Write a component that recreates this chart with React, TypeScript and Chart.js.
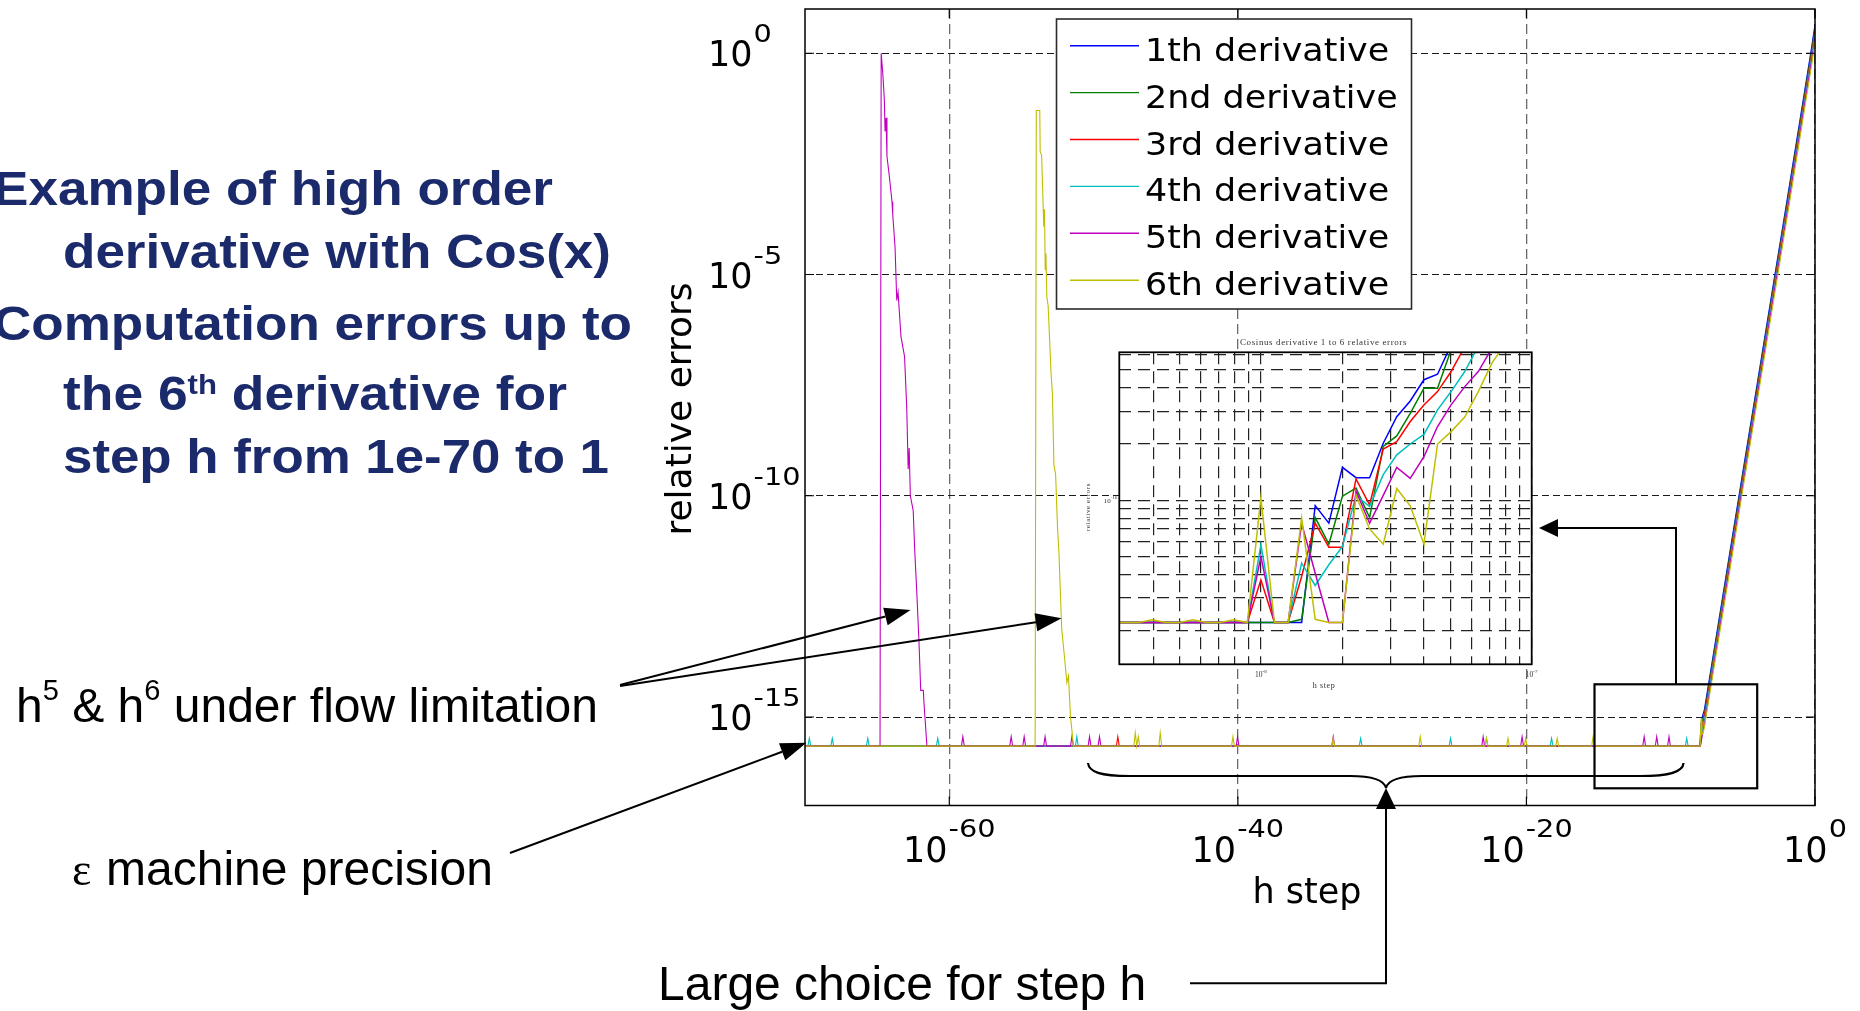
import React, { useEffect, useRef } from "react";
import { Chart, registerables } from "chart.js";

Chart.register(...registerables);

// ---------------- data ----------------
const SERIES_LABELS = ["1th derivative", "2nd derivative", "3rd derivative", "4th derivative", "5th derivative", "6th derivative"];
const SERIES_COLORS = ["#0000ff", "#008000", "#ff0000", "#00bfbf", "#bf00bf", "#bfbf00"];

// main chart points: [decade exponent of h, relative error]
const MAIN_1TH = [
  [-70, 2.2e-16], [-7.98, 2.2e-16], [-7.9, 7.0e-16], [-7.78, 1.1e-15], [-7.68, 1.4e-15], [-7, 3.2e-14], [-6, 3.4e-12],
  [-5, 3.5e-10], [-4, 3.5e-8], [-3, 3.6e-6], [-2, 3.6e-4], [-1, 3.8e-2], [-0.23, 1.4], [0, 4.5],
];
const MAIN_2ND = [
  [-70, 2.2e-16], [-7.97, 2.2e-16], [-7.88, 6.0e-16], [-7.76, 9.5e-16], [-7.67, 1.2e-15], [-7, 2.8e-14], [-6, 2.9e-12],
  [-5, 3.0e-10], [-4, 3.0e-8], [-3, 3.1e-6], [-2, 3.1e-4], [-1, 3.2e-2], [-0.23, 1.2], [0, 3.8],
];
const MAIN_3RD = [
  [-70, 2.2e-16], [-48.42, 2.2e-16], [-48.32, 3.6e-16], [-48.22, 2.2e-16], [-7.96, 2.2e-16], [-7.86, 5.0e-16],
  [-7.75, 7.9e-16], [-7.68, 1.0e-15], [-7, 2.3e-14], [-6, 2.4e-12], [-5, 2.5e-10], [-4, 2.5e-8], [-3, 2.6e-6],
  [-2, 2.6e-4], [-1, 2.7e-2], [-0.23, 1.0], [0, 3.2],
];
const MAIN_4TH = [
  [-70, 2.2e-16], [-69.8, 2.2e-16], [-69.7, 3.3e-16], [-69.6, 2.2e-16], [-68.21, 2.2e-16], [-68.11, 3.3e-16],
  [-68.01, 2.2e-16], [-65.75, 2.2e-16], [-65.65, 3.3e-16], [-65.55, 2.2e-16], [-60.9, 2.2e-16], [-60.8, 3.3e-16],
  [-60.7, 2.2e-16], [-51.26, 2.2e-16], [-51.16, 3.6e-16], [-51.06, 2.2e-16], [-31.59, 2.2e-16], [-31.49, 3.3e-16],
  [-31.39, 2.2e-16], [-25.36, 2.2e-16], [-25.26, 3.3e-16], [-25.16, 2.2e-16], [-22.87, 2.2e-16], [-22.77, 3.3e-16],
  [-22.67, 2.2e-16], [-18.36, 2.2e-16], [-18.26, 3.3e-16], [-18.16, 2.2e-16], [-8.99, 2.2e-16], [-8.89, 3.3e-16],
  [-8.79, 2.2e-16], [-7.95, 2.2e-16], [-7.84, 4.2e-16], [-7.74, 6.7e-16], [-7.66, 8.5e-16], [-7, 2.0e-14],
  [-6, 2.0e-12], [-5, 2.1e-10], [-4, 2.1e-8], [-3, 2.2e-6], [-2, 2.2e-4], [-1, 2.3e-2], [-0.23, 0.85], [0, 2.7],
];
const MAIN_5TH = [
  [-70, 2.2e-16], [-64.8, 2.2e-16], [-64.72, 1.0], [-64.6, 3.2e-1], [-64.5, 8.7e-2], [-64.45, 1.7e-2],
  [-64.38, 3.5e-2], [-64.32, 4.7e-3], [-64.15, 1.6e-3], [-63.97, 4.4e-4], [-63.92, 2.3e-4], [-63.76, 4.2e-5],
  [-63.64, 2.6e-6], [-63.55, 4.0e-6], [-63.35, 4.0e-7], [-63.1, 1.4e-7], [-62.95, 1.0e-8], [-62.85, 4.0e-10],
  [-62.78, 1.2e-9], [-62.7, 1.0e-10], [-62.5, 4.6e-11], [-62.4, 6.3e-12], [-62.25, 6.3e-13], [-62.1, 5.0e-14],
  [-61.98, 4.0e-15], [-61.8, 4.0e-15], [-61.75, 2.0e-15], [-61.55, 2.2e-16],
  [-59.16, 2.2e-16], [-59.06, 3.6e-16], [-58.96, 2.2e-16], [-55.81, 2.2e-16], [-55.71, 3.6e-16], [-55.61, 2.2e-16],
  [-54.91, 2.2e-16], [-54.81, 3.6e-16], [-54.71, 2.2e-16], [-53.46, 2.2e-16], [-53.36, 3.6e-16], [-53.26, 2.2e-16],
  [-51.6, 2.2e-16], [-51.5, 3.6e-16], [-51.4, 2.2e-16], [-50.38, 2.2e-16], [-50.28, 3.6e-16], [-50.18, 2.2e-16],
  [-49.69, 2.2e-16], [-49.59, 3.6e-16], [-49.49, 2.2e-16], [-40.12, 2.2e-16], [-40.02, 3.6e-16], [-39.92, 2.2e-16],
  [-33.49, 2.2e-16], [-33.39, 3.6e-16], [-33.29, 2.2e-16], [-23.1, 2.2e-16], [-23.0, 3.6e-16], [-22.9, 2.2e-16],
  [-20.4, 2.2e-16], [-20.3, 3.6e-16], [-20.2, 2.2e-16], [-11.94, 2.2e-16], [-11.84, 3.6e-16], [-11.74, 2.2e-16],
  [-11.07, 2.2e-16], [-10.97, 3.6e-16], [-10.87, 2.2e-16], [-10.22, 2.2e-16], [-10.12, 3.6e-16], [-10.02, 2.2e-16],
  [-7.94, 2.2e-16], [-7.83, 3.5e-16], [-7.73, 5.5e-16], [-7.65, 7.0e-16], [-7, 1.6e-14], [-6, 1.7e-12],
  [-5, 1.75e-10], [-4, 1.75e-8], [-3, 1.8e-6], [-2, 1.8e-4], [-1, 1.9e-2], [-0.23, 0.7], [0, 2.2],
];
const MAIN_6TH = [
  [-70, 2.2e-16], [-54.05, 2.2e-16], [-53.97, 5.1e-2], [-53.73, 5.1e-2], [-53.7, 5.9e-3], [-53.6, 5.0e-3],
  [-53.45, 1.2e-4], [-53.4, 3.0e-4], [-53.35, 1.3e-5], [-53.3, 3.0e-5], [-53.24, 3.1e-6], [-53.15, 2.0e-6],
  [-53.04, 3.0e-7], [-52.95, 6.0e-8], [-52.85, 2.0e-8], [-52.75, 5.0e-10], [-52.63, 3.0e-10], [-52.5, 2.0e-11],
  [-52.4, 5.0e-12], [-52.21, 1.0e-13], [-52.0, 2.0e-14], [-51.85, 6.0e-15], [-51.74, 8.5e-15], [-51.6, 1.0e-15],
  [-51.5, 5.0e-16], [-51.4, 2.2e-16],
  [-47.21, 2.2e-16], [-47.11, 4.4e-16], [-47.01, 2.2e-16], [-46.9, 3.6e-16], [-46.8, 2.2e-16],
  [-45.48, 2.2e-16], [-45.38, 4.4e-16], [-45.28, 2.2e-16], [-40.44, 2.2e-16], [-40.34, 3.6e-16], [-40.24, 2.2e-16],
  [-33.49, 2.2e-16], [-33.39, 3.3e-16], [-33.29, 2.2e-16], [-27.46, 2.2e-16], [-27.36, 3.6e-16], [-27.26, 2.2e-16],
  [-22.87, 2.2e-16], [-22.77, 3.3e-16], [-22.67, 2.2e-16], [-21.38, 2.2e-16], [-21.28, 3.3e-16], [-21.18, 2.2e-16],
  [-20.15, 2.2e-16], [-20.05, 3.3e-16], [-19.95, 2.2e-16], [-17.97, 2.2e-16], [-17.87, 3.3e-16], [-17.77, 2.2e-16],
  [-15.48, 2.2e-16], [-15.38, 3.6e-16], [-15.28, 2.2e-16],
  [-7.96, 2.2e-16], [-7.9, 9.0e-16], [-7.84, 4.0e-16], [-7.76, 4.3e-16], [-7.68, 5.5e-16], [-7, 1.3e-14],
  [-6, 1.3e-12], [-5, 1.4e-10], [-4, 1.4e-8], [-3, 1.4e-6], [-2, 1.4e-4], [-1, 1.5e-2], [-0.23, 0.55], [0, 1.8],
];
const MAIN_SERIES = [MAIN_1TH, MAIN_2ND, MAIN_3RD, MAIN_4TH, MAIN_5TH, MAIN_6TH];

const X_TICK_EXPONENTS = [-60, -40, -20, 0];
const Y_TICK_EXPONENTS = [0, -5, -10, -15];
const X_TITLE = "h step";
const Y_TITLE = "relative errors";

// inset chart: h values and the six error series
const INSET_H = [
  2.83e-9, 3.15e-9, 3.54e-9, 3.97e-9, 4.45e-9, 5.0e-9, 5.61e-9, 6.3e-9, 7.07e-9, 7.94e-9, 8.91e-9, 1.0e-8,
  1.122e-8, 1.26e-8, 1.414e-8, 1.587e-8, 1.782e-8, 2.0e-8, 2.245e-8, 2.52e-8, 2.83e-8, 3.175e-8, 3.56e-8,
  4.0e-8, 4.49e-8, 5.04e-8, 5.66e-8, 6.35e-8, 7.13e-8, 8.0e-8,
];
const INSET_1TH = [
  2.21e-17, 2.21e-17, 2.21e-17, 2.21e-17, 2.21e-17, 2.21e-17, 2.21e-17, 2.21e-17, 2.21e-17, 2.21e-17, 2.21e-17,
  2.21e-17, 2.21e-17, 2.21e-17, 2.21e-17, 9.35e-17, 7.53e-17, 1.5e-16, 1.32e-16, 1.32e-16, 2.02e-16, 2.8e-16,
  3.4e-16, 4.42e-16, 4.73e-16, 6.8e-16,
];
const INSET_2ND = [
  2.21e-17, 2.21e-17, 2.21e-17, 2.21e-17, 2.21e-17, 2.21e-17, 2.21e-17, 2.21e-17, 2.21e-17, 2.21e-17, 2.21e-17,
  2.21e-17, 2.21e-17, 2.21e-17, 2.3e-17, 8.07e-17, 5.81e-17, 1.05e-16, 1.16e-16, 8.07e-17, 1.94e-16, 2.21e-16,
  2.92e-16, 3.98e-16, 3.98e-16, 6.4e-16,
];
const INSET_3RD = [
  2.21e-17, 2.21e-17, 2.21e-17, 2.21e-17, 2.21e-17, 2.21e-17, 2.21e-17, 2.21e-17, 2.21e-17, 2.21e-17, 2.21e-17,
  3.74e-17, 2.21e-17, 2.21e-17, 3.9e-17, 7.53e-17, 5.6e-17, 5.6e-17, 1.3e-16, 9.44e-17, 1.88e-16, 2.06e-16,
  2.64e-16, 3.24e-16, 3.82e-16, 4.89e-16, 6.65e-16,
];
const INSET_4TH = [
  2.21e-17, 2.21e-17, 2.21e-17, 2.21e-17, 2.21e-17, 2.21e-17, 2.21e-17, 2.21e-17, 2.21e-17, 2.21e-17, 2.21e-17,
  5.77e-17, 2.21e-17, 2.21e-17, 4.6e-17, 3.49e-17, 4.51e-17, 5.65e-17, 1.06e-16, 9.25e-17, 1.37e-16, 1.75e-16,
  2.0e-16, 2.25e-16, 3.05e-16, 3.82e-16, 4.89e-16, 6.7e-16,
];
const INSET_5TH = [
  2.21e-17, 2.21e-17, 2.21e-17, 2.21e-17, 2.21e-17, 2.21e-17, 2.21e-17, 2.21e-17, 2.21e-17, 2.21e-17, 2.21e-17,
  4.99e-17, 2.21e-17, 2.21e-17, 7.53e-17, 4.06e-17, 2.21e-17, 2.21e-17, 1.12e-16, 7.53e-17, 1.06e-16, 1.5e-16,
  1.31e-16, 1.71e-16, 2.48e-16, 3.24e-16, 4.06e-16, 4.89e-16, 6.52e-16,
];
const INSET_6TH = [
  2.21e-17, 2.21e-17, 2.21e-17, 2.29e-17, 2.21e-17, 2.21e-17, 2.29e-17, 2.21e-17, 2.21e-17, 2.29e-17, 2.21e-17,
  1.03e-16, 2.21e-17, 2.21e-17, 8.02e-17, 2.3e-17, 2.21e-17, 2.21e-17, 1.06e-16, 7.01e-17, 5.81e-17, 1.155e-16,
  9.33e-17, 5.81e-17, 2.0e-16, 2.33e-16, 2.79e-16, 3.82e-16, 5.42e-16, 6.93e-16,
];
const INSET_SERIES = [INSET_1TH, INSET_2ND, INSET_3RD, INSET_4TH, INSET_5TH, INSET_6TH];
const INSET_X_GRID = [4e-9, 5e-9, 6e-9, 7e-9, 8e-9, 9e-9, 1e-8, 2e-8, 3e-8, 4e-8, 5e-8, 6e-8, 7e-8, 8e-8, 9e-8, 1e-7];
const INSET_Y_GRID = [2e-17, 3e-17, 4e-17, 5e-17, 6e-17, 7e-17, 8e-17, 9e-17, 1e-16, 2e-16, 3e-16, 4e-16, 5e-16, 6e-16];
const INSET_X_LABEL_EXPONENTS = [-8, -7];
const INSET_Y_LABEL_EXPONENTS = [-16];
const INSET_TITLE = "Cosinus derivative 1 to 6 relative errors";

// ---------------- drawing helpers ----------------
const F_SANS = '"DejaVu Sans", "Liberation Sans", sans-serif';
const F_SERIF = '"Liberation Serif", "DejaVu Serif", serif';

function drawPower(ctx, exp, x, baseY, centered, baseSize, expSize, expRise, expStretch) {
  ctx.font = `${baseSize}px ${F_SANS}`;
  const w1 = ctx.measureText("10").width;
  const s = String(exp);
  ctx.font = `${expSize}px ${F_SANS}`;
  const w2 = ctx.measureText(s).width * expStretch;
  const gap = baseSize * 0.03;
  const x0 = centered ? x - (w1 + gap + w2) / 2 : x;
  ctx.textAlign = "left";
  ctx.textBaseline = "alphabetic";
  ctx.font = `${baseSize}px ${F_SANS}`;
  ctx.fillText("10", x0, baseY);
  ctx.save();
  ctx.translate(x0 + w1 + gap, baseY - expRise);
  ctx.scale(expStretch, 1);
  ctx.font = `${expSize}px ${F_SANS}`;
  ctx.fillText(s, 0, 0);
  ctx.restore();
}

function drawSerifPower(ctx, exp, x, baseY, align, baseSize, expSize, expRise) {
  ctx.font = `${baseSize}px ${F_SERIF}`;
  const w1 = ctx.measureText("10").width;
  ctx.font = `${expSize}px ${F_SERIF}`;
  const w2 = ctx.measureText(String(exp)).width;
  let x0 = x - (w1 + w2) / 2;
  if (align === "right") x0 = x - (w1 + w2);
  ctx.textAlign = "left";
  ctx.font = `${baseSize}px ${F_SERIF}`;
  ctx.fillText("10", x0, baseY);
  ctx.font = `${expSize}px ${F_SERIF}`;
  ctx.fillText(String(exp), x0 + w1, baseY - expRise);
}

const mainDecor = {
  id: "mainDecor",
  afterDraw(chart) {
    const { ctx, chartArea: a } = chart;
    const xs = chart.scales.x;
    const ys = chart.scales.y;
    ctx.save();
    // legend box
    const lx = 1056.5, ly = 19, lw = 355, lh = 290;
    ctx.fillStyle = "#ffffff";
    ctx.fillRect(lx, ly, lw, lh);
    ctx.strokeStyle = "#2b2b2b";
    ctx.lineWidth = 1.6;
    ctx.strokeRect(lx, ly, lw, lh);
    chart.data.datasets.forEach((ds, i) => {
      const y = 45.7 + i * 46.9;
      ctx.strokeStyle = ds.borderColor;
      ctx.lineWidth = 1.4;
      ctx.beginPath();
      ctx.moveTo(1070, y);
      ctx.lineTo(1139, y);
      ctx.stroke();
      ctx.save();
      ctx.translate(1145, y + 15);
      ctx.scale(1.09, 1);
      ctx.fillStyle = "#000";
      ctx.font = `32px ${F_SANS}`;
      ctx.textAlign = "left";
      ctx.textBaseline = "alphabetic";
      ctx.fillText(ds.label, 0, 0);
      ctx.restore();
    });
    // frame
    ctx.strokeStyle = "#000";
    ctx.lineWidth = 1.5;
    ctx.strokeRect(a.left, a.top, a.right - a.left, a.bottom - a.top);
    ctx.lineWidth = 1.2;
    ctx.beginPath();
    X_TICK_EXPONENTS.forEach((e) => {
      const px = xs.getPixelForValue(Math.pow(10, e));
      ctx.moveTo(px, a.bottom); ctx.lineTo(px, a.bottom - 9);
      ctx.moveTo(px, a.top); ctx.lineTo(px, a.top + 9);
    });
    Y_TICK_EXPONENTS.forEach((e) => {
      const py = ys.getPixelForValue(Math.pow(10, e));
      ctx.moveTo(a.left, py); ctx.lineTo(a.left + 9, py);
      ctx.moveTo(a.right, py); ctx.lineTo(a.right - 9, py);
    });
    ctx.stroke();
    // tick labels
    ctx.fillStyle = "#000";
    X_TICK_EXPONENTS.forEach((e) => {
      const px = xs.getPixelForValue(Math.pow(10, e));
      drawPower(ctx, e, px, a.bottom + 56, true, 35, 25, 25, 1.15);
    });
    Y_TICK_EXPONENTS.forEach((e) => {
      const py = ys.getPixelForValue(Math.pow(10, e));
      drawPower(ctx, e, 708, py + 13, false, 35, 25, 24, 1.15);
    });
    // axis titles
    ctx.font = `35px ${F_SANS}`;
    ctx.textAlign = "center";
    ctx.textBaseline = "alphabetic";
    ctx.fillText(X_TITLE, 1307, 903);
    ctx.save();
    ctx.translate(691, 409);
    ctx.rotate(-Math.PI / 2);
    ctx.font = `36px ${F_SANS}`;
    ctx.fillText(Y_TITLE, 0, 0);
    ctx.restore();
    ctx.restore();
  },
};

const insetDecor = {
  id: "insetDecor",
  beforeDraw(chart) {
    const { ctx, chartArea: a } = chart;
    ctx.save();
    ctx.fillStyle = "#ffffff";
    ctx.fillRect(a.left, a.top, a.right - a.left, a.bottom - a.top);
    ctx.restore();
  },
  afterDraw(chart) {
    const { ctx, chartArea: a } = chart;
    const xs = chart.scales.x;
    const ys = chart.scales.y;
    ctx.save();
    ctx.strokeStyle = "#000";
    ctx.lineWidth = 1.8;
    ctx.strokeRect(a.left, a.top, a.right - a.left, a.bottom - a.top);
    ctx.fillStyle = "#333";
    ctx.textBaseline = "alphabetic";
    ctx.font = `9px ${F_SERIF}`;
    ctx.textAlign = "center";
    if ("letterSpacing" in ctx) ctx.letterSpacing = "0.6px";
    ctx.fillText(INSET_TITLE, (a.left + a.right) / 2 - 2, a.top - 7);
    if ("letterSpacing" in ctx) ctx.letterSpacing = "0px";
    INSET_X_LABEL_EXPONENTS.forEach((e) => {
      const px = xs.getPixelForValue(Math.pow(10, e));
      drawSerifPower(ctx, e, px, a.bottom + 13, "center", 7.5, 5, 4);
    });
    INSET_Y_LABEL_EXPONENTS.forEach((e) => {
      const py = ys.getPixelForValue(Math.pow(10, e));
      drawSerifPower(ctx, e, a.left - 2, py + 3, "right", 7, 5, 4);
    });
    ctx.font = `8px ${F_SERIF}`;
    ctx.textAlign = "center";
    if ("letterSpacing" in ctx) ctx.letterSpacing = "0.6px";
    ctx.fillText(X_TITLE, 1324 - 1060, a.bottom + 24);
    ctx.save();
    ctx.translate(1090 - 1060, 507 - 325);
    ctx.rotate(-Math.PI / 2);
    ctx.font = `7px ${F_SERIF}`;
    ctx.fillText(Y_TITLE, 0, 0);
    ctx.restore();
    ctx.restore();
  },
};

function arrowHead(x1, y1, x2, y2, len = 26, half = 9) {
  const dx = x2 - x1, dy = y2 - y1;
  const d = Math.hypot(dx, dy);
  const ux = dx / d, uy = dy / d;
  const bx = x2 - ux * len, by = y2 - uy * len;
  return {
    points: `${x2},${y2} ${bx - uy * half},${by + ux * half} ${bx + uy * half},${by - ux * half}`,
    bx,
    by,
  };
}

function Arrow({ x1, y1, x2, y2, len = 26, half = 9 }) {
  const h = arrowHead(x1, y1, x2, y2, len, half);
  return (
    <g>
      <line x1={x1} y1={y1} x2={h.bx} y2={h.by} stroke="#000" strokeWidth={2} />
      <polygon points={h.points} fill="#000" />
    </g>
  );
}

export default function App() {
  const mainRef = useRef(null);
  const insetRef = useRef(null);

  useEffect(() => {
    document.body.style.margin = "0";
    const n = MAIN_SERIES.length;
    const main = new Chart(mainRef.current, {
      type: "line",
      data: {
        datasets: MAIN_SERIES.map((pts, i) => ({
          label: SERIES_LABELS[i],
          data: pts.map(([e, v]) => ({ x: Math.pow(10, e), y: v })),
          borderColor: SERIES_COLORS[i],
          backgroundColor: SERIES_COLORS[i],
          borderWidth: 1.1,
          pointRadius: 0,
          tension: 0,
          fill: false,
          order: n - i,
        })),
      },
      options: {
        responsive: false,
        devicePixelRatio: 1,
        animation: false,
        events: [],
        layout: { padding: { left: 805, top: 9, right: 45, bottom: 205.5 } },
        plugins: { legend: { display: false }, tooltip: { enabled: false }, title: { display: false } },
        scales: {
          x: {
            type: "logarithmic",
            min: 1e-70,
            max: 1,
            afterFit: (s) => { s.height = 0; },
            afterBuildTicks: (s) => { s.ticks = X_TICK_EXPONENTS.map((e) => ({ value: Math.pow(10, e) })); },
            ticks: { display: false },
            grid: { color: "#6a6a6a", lineWidth: 1.3, drawTicks: false },
            border: { display: false, dash: [10, 5] },
          },
          y: {
            type: "logarithmic",
            min: 1e-17,
            max: 10,
            afterFit: (s) => { s.width = 0; },
            afterBuildTicks: (s) => { s.ticks = Y_TICK_EXPONENTS.map((e) => ({ value: Math.pow(10, e) })); },
            ticks: { display: false },
            grid: { color: "#1a1a1a", lineWidth: 1, drawTicks: false },
            border: { display: false, dash: [7, 4] },
          },
        },
      },
      plugins: [mainDecor],
    });

    const inset = new Chart(insetRef.current, {
      type: "line",
      data: {
        datasets: INSET_SERIES.map((vals, i) => ({
          label: SERIES_LABELS[i],
          data: vals.map((v, j) => ({ x: INSET_H[j], y: v })),
          borderColor: SERIES_COLORS[i],
          backgroundColor: SERIES_COLORS[i],
          borderWidth: 1.5,
          pointRadius: 0,
          tension: 0,
          fill: false,
          order: n - i,
        })),
      },
      options: {
        responsive: false,
        devicePixelRatio: 1,
        animation: false,
        events: [],
        layout: { padding: { left: 59.3, top: 27.3, right: 28.3, bottom: 40.7 } },
        plugins: { legend: { display: false }, tooltip: { enabled: false } },
        scales: {
          x: {
            type: "logarithmic",
            min: 3e-9,
            max: 1e-7,
            afterFit: (s) => { s.height = 0; },
            afterBuildTicks: (s) => { s.ticks = INSET_X_GRID.map((v) => ({ value: v })); },
            ticks: { display: false },
            grid: { color: "#222", lineWidth: 1.2, drawTicks: false },
            border: { display: false, dash: [12, 7] },
          },
          y: {
            type: "logarithmic",
            min: 1.32e-17,
            max: 6.2e-16,
            afterFit: (s) => { s.width = 0; },
            afterBuildTicks: (s) => { s.ticks = INSET_Y_GRID.map((v) => ({ value: v })); },
            ticks: { display: false },
            grid: { color: "#222", lineWidth: 1.2, drawTicks: false },
            border: { display: false, dash: [12, 7] },
          },
        },
      },
      plugins: [insetDecor],
    });

    return () => {
      main.destroy();
      inset.destroy();
    };
  }, []);

  const navy = "#1b2a6b";
  const sans = '"Liberation Sans", Arial, sans-serif';

  return (
    <div style={{ position: "absolute", left: 0, top: 0, width: 1860, height: 1011, background: "#fff", overflow: "hidden" }}>
      <canvas ref={mainRef} width={1860} height={1011} style={{ position: "absolute", left: 0, top: 0, width: 1860, height: 1011 }} />
      <canvas ref={insetRef} width={500} height={380} style={{ position: "absolute", left: 1060, top: 325, width: 500, height: 380 }} />
      <svg width={1860} height={1011} viewBox="0 0 1860 1011" style={{ position: "absolute", left: 0, top: 0, pointerEvents: "none" }}>
        <g fill={navy} fontFamily={sans} fontWeight="bold" fontSize={48}>
          <text x={-7} y={205} textLength={560} lengthAdjust="spacingAndGlyphs">Example of high order</text>
          <text x={63} y={268} textLength={548} lengthAdjust="spacingAndGlyphs">derivative with Cos(x)</text>
          <text x={-7} y={340} textLength={639} lengthAdjust="spacingAndGlyphs">Computation errors up to</text>
          <text x={63} y={410} textLength={504} lengthAdjust="spacingAndGlyphs">
            the 6<tspan fontSize={28} dy={-16}>th</tspan><tspan dy={16}>{" derivative for"}</tspan>
          </text>
          <text x={63} y={473} textLength={546} lengthAdjust="spacingAndGlyphs">step h from 1e-70 to 1</text>
        </g>
        <g fill="#000" fontFamily={sans} fontSize={48}>
          <text x={16} y={722} textLength={582} lengthAdjust="spacingAndGlyphs">
            h<tspan fontSize={29} dy={-22}>5</tspan><tspan dy={22}>{" & h"}</tspan><tspan fontSize={29} dy={-22}>6</tspan><tspan dy={22}>{" under flow limitation"}</tspan>
          </text>
          <text x={72} y={885}>
            <tspan fontFamily={'"Liberation Serif", serif'} fontSize={46}>ε</tspan>
            <tspan x={106}>machine precision</tspan>
          </text>
          <text x={658} y={1000}>Large choice for step h</text>
        </g>
        <Arrow x1={620} y1={685} x2={910.6} y2={610} />
        <Arrow x1={620} y1={686} x2={1061.6} y2={618.3} />
        <Arrow x1={510} y1={853} x2={806.5} y2={742.7} />
        <path
          d="M 1088 763 C 1089 772 1100 776 1130 776 L 1350 776 C 1372 776 1384 780 1386 788 C 1388 780 1400 776 1422 776 L 1640 776 C 1670 776 1683 772 1683.5 763"
          fill="none"
          stroke="#000"
          strokeWidth={2.2}
        />
        <polyline points="1190,983.3 1386,983.3 1386,805" fill="none" stroke="#000" strokeWidth={2} />
        <polygon points="1386,788 1376,809 1396,809" fill="#000" />
        <rect x={1594.5} y={684.3} width={162.7} height={104} fill="none" stroke="#000" strokeWidth={2.2} />
        <polyline points="1676,684.3 1676,528 1556,528" fill="none" stroke="#000" strokeWidth={2} />
        <polygon points="1539,528 1558,519 1558,537" fill="#000" />
      </svg>
    </div>
  );
}
